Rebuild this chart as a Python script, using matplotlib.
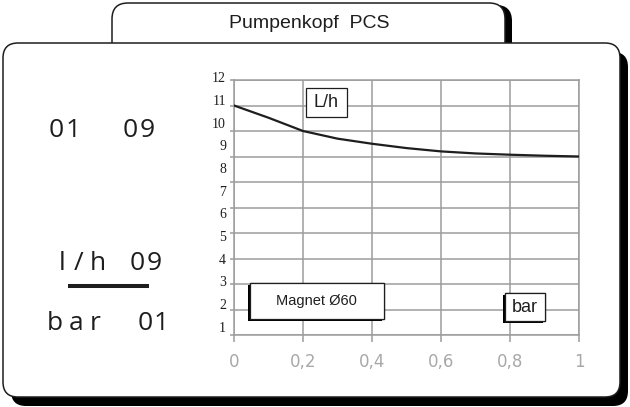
import numpy as np
import matplotlib
matplotlib.use('Agg')
import matplotlib.pyplot as plt
from matplotlib.patches import FancyBboxPatch, Rectangle
import matplotlib.patheffects as pe

# pump curve of the head: flow (L/h) against back pressure (bar)
pressure = [0, 0.1, 0.2, 0.3, 0.4, 0.5, 0.6, 0.7, 0.8, 0.9, 1.0]
flow = [11.0, 10.52, 10.0, 9.7, 9.5, 9.33, 9.2, 9.12, 9.07, 9.03, 9.0]

x_ticks = [0, 0.2, 0.4, 0.6, 0.8, 1.0]
x_tick_labels = ['0', '0,2', '0,4', '0,6', '0,8', '1']
grid_levels = list(range(2, 13))
y_tick_labels = [str(n) for n in range(1, 13)]

title = 'Pumpenkopf  PCS'
top_code = [('0', 56), ('1', 73), ('0', 130), ('9', 147)]
flow_code = [('l', 62), ('/', 79), ('h', 98), ('0', 137), ('9', 154)]
bar_code = [('b', 55), ('a', 76), ('r', 95), ('0', 145), ('1', 161)]

GRAY = '#9c9c9c'
INK = '#1e1e1e'

fig = plt.figure(figsize=(6.3, 4.07), dpi=100)

# background layer in pixel units for the rounded frames
bg = fig.add_axes([0, 0, 1, 1])
bg.set_xlim(0, 630)
bg.set_ylim(407, 0)
bg.axis('off')

# main frame shadow, tab shadow, tab, main frame
bg.add_patch(FancyBboxPatch((11, 52), 617, 354, boxstyle='round,pad=0,rounding_size=15',
                            fc='black', ec='none'))
bg.add_patch(FancyBboxPatch((119, 5), 393, 60, boxstyle='round,pad=0,rounding_size=16',
                            fc='black', ec='none'))
bg.add_patch(FancyBboxPatch((112, 3), 393, 60, boxstyle='round,pad=0,rounding_size=16',
                            fc='white', ec=INK, lw=1.1))
bg.add_patch(FancyBboxPatch((3, 43), 617, 354, boxstyle='round,pad=0,rounding_size=15',
                            fc='white', ec=INK, lw=1.1))

bg.text(309, 27.7, title, ha='center', va='baseline', fontsize=14,
        family='Liberation Sans', color=INK)

# left side: code numbers
for row, base in [(top_code, 137), (flow_code, 270), (bar_code, 330)]:
    for ch, x in row:
        bg.text(x, base, ch, ha='center', va='baseline', fontsize=19,
                family='Open Sans', color=INK)
bg.plot([68, 149], [285.5, 285.5], color=INK, lw=2.9, solid_capstyle='butt')

# chart
ax = fig.add_axes([234 / 630, (407 - 335) / 407, 345 / 630, 255 / 407])
ax.patch.set_alpha(0)
ax.set_xlim(0, 1)
ax.set_ylim(2, 12)
ax.set_xticks(x_ticks)
ax.set_xticklabels(x_tick_labels, family=['Liberation Sans Narrow', 'DejaVu Sans'],
                   fontsize=12, color='#a8a8a8')
ax.set_yticks(grid_levels)
ax.set_yticklabels([])
ax.tick_params(axis='x', length=5, width=1.1, color=GRAY, pad=8)
ax.tick_params(axis='y', length=3, width=1.1, color=GRAY)
ax.grid(True, color=GRAY, lw=1.1)
for s in ax.spines.values():
    s.set_color(GRAY)
    s.set_linewidth(1.1)

ax.plot(pressure, flow, color=INK, lw=1.6, zorder=3)

# y labels of the scan run on a slightly tighter pitch than the grid
label_pos = np.linspace(2.27, 12.04, len(y_tick_labels))
for lab, p in zip(y_tick_labels, label_pos):
    ax.text(-0.023, p, lab, transform=ax.get_yaxis_transform(), ha='right', va='center',
            fontsize=10, family='Liberation Serif', color=INK, clip_on=False)

shadow = [pe.withSimplePatchShadow(offset=(-1.5, -1.5), shadow_rgbFace='black', alpha=1),
          pe.Normal()]
ax.add_patch(Rectangle((0.209, 10.54), 0.118, 1.13, fc='white', ec=INK, lw=0.9, zorder=4))
ax.text(0.268, 11.12, 'L/h', ha='center', va='center', fontsize=13,
        family='Liberation Sans', color=INK, zorder=5)
ax.add_patch(Rectangle((0.0464, 2.62), 0.389, 1.41, fc='white', ec=INK, lw=0.9, zorder=4,
                       path_effects=shadow))
ax.text(0.24, 3.33, 'Magnet Ø60', ha='center', va='center', fontsize=10.5,
        family='Liberation Sans', color=INK, zorder=5)
ax.add_patch(Rectangle((0.7855, 2.56), 0.116, 1.08, fc='white', ec=INK, lw=0.9, zorder=4,
                       path_effects=shadow))
ax.text(0.843, 3.08, 'bar', ha='center', va='center', fontsize=13,
        family='Liberation Sans', color=INK, zorder=5)

fig.savefig('out.png', dpi=100)
